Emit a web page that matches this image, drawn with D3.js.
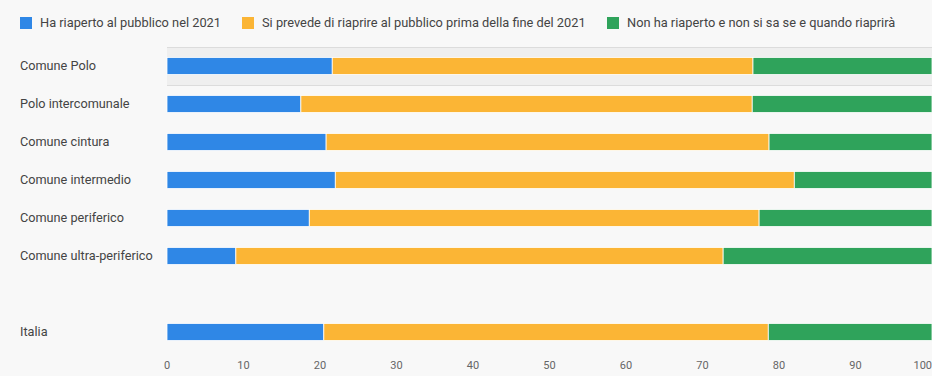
<!DOCTYPE html>
<html>
<head>
<meta charset="utf-8">
<script src="https://cdn.jsdelivr.net/npm/d3@7"></script>
<style>
  html, body { margin: 0; padding: 0; background: #f8f8f8; }
  body { width: 932px; height: 376px; overflow: hidden; font-family: Roboto, "Noto Sans", sans-serif; }
</style>
</head>
<body>
<div id="chart"></div>
<script>
// ── Data ──────────────────────────────────────────────────────────────────
const categories = ['Comune Polo', 'Polo intercomunale', 'Comune cintura', 'Comune intermedio',
  'Comune periferico', 'Comune ultra-periferico', '', 'Italia'];
const seriesNames = ['Ha riaperto al pubblico nel 2021',
  'Si prevede di riaprire al pubblico prima della fine del 2021',
  'Non ha riaperto e non si sa se e quando riaprirà'];
const riaperto    = [21.6, 17.5, 20.8, 22.0, 18.6, 9.0, null, 20.5];
const siPrevede   = [55.0, 59.0, 57.9, 60.0, 58.8, 63.7, null, 58.1];
const nonRiaperto = [23.4, 23.5, 21.3, 18.0, 22.6, 27.3, null, 21.4];
const xTicks = [0, 10, 20, 30, 40, 50, 60, 70, 80, 90, 100];
const colors = ['#2f87e6', '#fbb535', '#2fa35b'];

const W = 932, H = 376;
const M = { top: 47, left: 167 };

const svg = d3.select('#chart').append('svg').attr('width', W).attr('height', H);

const x = d3.scaleLinear().domain([0, 100]).range([M.left, 932]);
const y = d3.scaleBand().domain(categories.map((c, i) => i))
  .range([M.top, M.top + 38 * categories.length])
  .paddingInner(0.55).paddingOuter(0.275);

// ── Hover band on first row ─────────────────────────────────────────────────
const step = y.step();
svg.append('rect')
  .attr('x', M.left).attr('y', M.top)
  .attr('width', W - M.left).attr('height', step)
  .attr('fill', '#efefef');
[M.top, M.top + step].forEach(v => svg.append('line')
  .attr('x1', M.left).attr('x2', W).attr('y1', v + 0.5).attr('y2', v + 0.5)
  .attr('stroke', '#dcdcdc'));

// ── Stacked bars ────────────────────────────────────────────────────────────
const rows = categories.map((c, i) => ({ i, vals: [riaperto[i], siPrevede[i], nonRiaperto[i]] }))
  .filter(d => d.vals[0] != null);

rows.forEach(d => {
  let acc = 0;
  d.vals.forEach((v, k) => {
    svg.append('rect')
      .attr('x', x(acc)).attr('y', y(d.i))
      .attr('width', x(acc + v) - x(acc)).attr('height', y.bandwidth())
      .attr('fill', colors[k]).attr('stroke', '#fff').attr('stroke-width', 0.8);
    acc += v;
  });
});

// ── Category labels ─────────────────────────────────────────────────────────
svg.append('g').selectAll('text').data(categories).join('text')
  .attr('x', 20).attr('y', (d, i) => y(i) + y.bandwidth() / 2)
  .attr('dy', '0.35em')
  .attr('font-size', 12.7).attr('fill', '#444')
  .text(d => d);

// ── X axis labels ───────────────────────────────────────────────────────────
svg.append('g').selectAll('text').data(xTicks).join('text')
  .attr('x', d => d === 100 ? 932 : x(d)).attr('y', 365)
  .attr('dy', '0.35em').attr('text-anchor', d => d === 100 ? 'end' : 'middle')
  .attr('font-size', 11).attr('fill', '#666')
  .text(d => d);

// ── Legend ──────────────────────────────────────────────────────────────────
const legendX = [20, 242, 607];
seriesNames.forEach((s, k) => {
  svg.append('rect').attr('x', legendX[k]).attr('y', 17)
    .attr('width', 12).attr('height', 12).attr('fill', colors[k]);
  svg.append('text').attr('x', legendX[k] + 20).attr('y', 23).attr('dy', '0.35em')
    .attr('font-size', 12.8).attr('fill', '#444').text(s);
});
</script>
</body>
</html>
